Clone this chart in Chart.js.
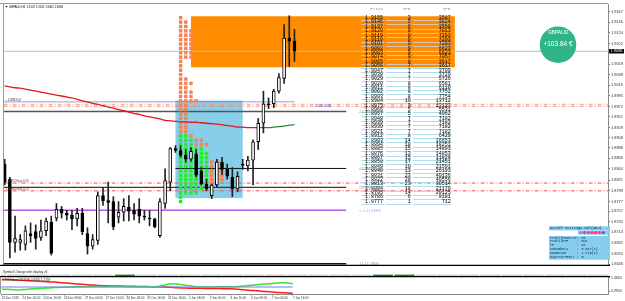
<!DOCTYPE html>
<html>
<head>
<meta charset="utf-8">
<title>GBPAUD,H4</title>
<script src="https://cdn.jsdelivr.net/npm/chart.js@4.4.1/dist/chart.umd.min.js"></script>
<style>
  html, body { margin:0; padding:0; background:#ffffff; width:625px; height:301px; overflow:hidden; }
  canvas { position:absolute; left:0; display:block; }
  #main { top:0; }
  #sub { top:269px; }
</style>
</head>
<body>
<canvas id="main" width="625" height="269"></canvas>
<canvas id="sub" width="625" height="32"></canvas>
<script>
// ---------------- DATA ----------------
const symbolName = 'GBPAUD,H4';
const candleOpen = [1.8854,1.8823,1.8693,1.8693,1.8689,1.8711,1.8715,1.8703,1.8717,1.8735,
1.8743,1.8761,1.8753,1.8749,1.8741,1.8753,1.8711,1.8685,1.8697,1.8789,
1.8779,1.8777,1.8745,1.8755,1.8765,1.8759,1.8761,1.8747,1.8743,1.8741,
1.8707,1.8773,1.8817,1.8886,1.8882,1.8872,1.8864,1.8874,1.8839,1.8813,
1.8789,1.8811,1.8858,1.8843,1.8827,1.8803,1.8854,1.8850,1.8862,1.8900,
1.8938,1.8978,1.8978,1.9004,1.9030,1.9113,1.9107];
const candleHigh = [1.8864,1.8827,1.8747,1.8709,1.8727,1.8733,1.8729,1.8739,1.8743,1.8747,
1.8773,1.8767,1.8759,1.8759,1.8763,1.8763,1.8723,1.8709,1.8797,1.8805,
1.8817,1.8787,1.8777,1.8783,1.8789,1.8773,1.8783,1.8759,1.8759,1.8743,
1.8783,1.8844,1.8888,1.8892,1.8892,1.8884,1.8888,1.8884,1.8847,1.8823,
1.8813,1.8864,1.8868,1.8854,1.8847,1.8838,1.8864,1.8870,1.8904,1.8948,
1.9004,1.8990,1.9008,1.9040,1.9141,1.9159,1.9131];
const candleLow = [1.8811,1.8661,1.8673,1.8677,1.8677,1.8693,1.8679,1.8697,1.8707,1.8667,
1.8737,1.8743,1.8739,1.8719,1.8727,1.8709,1.8669,1.8679,1.8689,1.8769,
1.8733,1.8719,1.8733,1.8737,1.8737,1.8739,1.8733,1.8739,1.8727,1.8723,
1.8703,1.8763,1.8799,1.8878,1.8868,1.8858,1.8860,1.8827,1.8811,1.8799,
1.8783,1.8807,1.8833,1.8823,1.8787,1.8797,1.8843,1.8840,1.8811,1.8884,
1.8918,1.8968,1.8970,1.9000,1.9020,1.9055,1.9065];
const candleClose = [1.8817,1.8693,1.8701,1.8699,1.8717,1.8707,1.8701,1.8717,1.8737,1.8671,
1.8761,1.8753,1.8749,1.8741,1.8753,1.8715,1.8685,1.8699,1.8789,1.8779,
1.8775,1.8725,1.8755,1.8767,1.8757,1.8751,1.8747,1.8745,1.8741,1.8725,
1.8777,1.8820,1.8886,1.8882,1.8872,1.8864,1.8880,1.8831,1.8813,1.8803,
1.8811,1.8858,1.8843,1.8829,1.8803,1.8829,1.8852,1.8862,1.8900,1.8938,
1.8978,1.8976,1.9004,1.9032,1.9113,1.9107,1.9086];
const maValues = [1.9015,1.9013,1.9011,1.9010,1.9008,1.9006,1.9004,1.9002,1.9000,1.8998,
1.8996,1.8994,1.8992,1.8990,1.8987,1.8984,1.8982,1.8979,1.8977,1.8974,
1.8971,1.8969,1.8966,1.8964,1.8961,1.8958,1.8956,1.8953,1.8951,1.8949,
1.8947,1.8944,1.8943,1.8942,1.8941,1.8941,1.8940,1.8940,1.8939,1.8938,
1.8937,1.8936,1.8935,1.8933,1.8932,1.8930,1.8930,1.8929,1.8929,1.8929,
1.8929,1.8929,1.8930,1.8931,1.8932,1.8934,1.8935];
const maTurnIndex = 49;

const timeLabels = ['23 Dec 2019','24 Dec 00:00','24 Dec 16:00','26 Dec 08:00','27 Dec 00:00',
'27 Dec 16:00','30 Dec 08:00','31 Dec 00:00','31 Dec 16:00','2 Jan 08:00','3 Jan 00:00',
'3 Jan 16:00','6 Jan 08:00','7 Jan 00:00','7 Jan 16:00'];
const timeLabelIndex = [0,4,8,12,16,20,24,28,32,36,40,44,48,52,56];
const priceTicks = [1.9167,1.9146,1.9124,1.9102,1.9059,1.9038,1.9016,1.8995,1.8972,1.8951,
1.8929,1.8908,1.8888,1.8866,1.8844,1.8821,1.8799,1.8777,1.8757,1.8735,1.8714,1.8692,1.8670,1.8648];
const lastPrice = 1.9086;
const barOHLCText = ['1.9107','1.9131','1.9065','1.9086'];

// profile table
const tablePrices = [1.9155,1.9146,1.9137,1.9128,1.9119,1.9110,1.9101,1.9092,1.9083,1.9074,
1.9065,1.9056,1.9047,1.9038,1.9029,1.9020,1.9011,1.9002,1.8993,1.8984,
1.8975,1.8966,1.8957,1.8948,1.8939,1.8930,1.8921,1.8912,1.8903,1.8894,
1.8885,1.8876,1.8867,1.8858,1.8849,1.8840,1.8831,1.8822,1.8813,1.8804,
1.8795,1.8786,1.8777];
const tableTPO = [3,5,6,9,9,9,9,9,9,9,8,7,7,7,7,8,8,8,8,10,9,5,5,7,7,7,7,8,14,18,15,13,15,17,10,13,23,28,23,18,14,6,1];
const tableVPO = [3587,3824,3559,7813,7293,7293,7293,6623,6623,7057,3617,3617,3709,3729,5726,6581,6110,7752,7754,13712,
13123,5531,4062,7182,7182,7182,7182,6429,16653,18251,14893,14853,11828,21451,21591,26193,40136,40556,30514,21179,20125,8181,712];
const tableHeaders = ['Price','TPO','VPO'];

// TPO squares: [candle column, first row, last row]
const tpoOrangeRuns = [[34,0,26],[35,1,9],[35,14,26],[36,3,9],[36,15,15],[36,17,19],[36,27,27],
[37,19,19],[37,28,29],[38,28,29],[39,29,29],[40,33,38],[41,33,37],[42,34,37]];
const tpoGreenRuns = [[34,27,42],[35,27,40],[36,28,40],[37,30,40],[38,30,39],[39,31,39]];

// zones: [from index, to index, top price, bottom price]
const valueZone = [36.0, 87.0, 1.9158, 1.9053];
const rangeZone = [33.0, 46.0, 1.8984, 1.8784];

// horizontal levels
const levelPrices = [1.9086, 1.8982, 1.8977, 1.8973, 1.8962, 1.8845, 1.8815, 1.8806, 1.8799, 1.8759, 1.8649];
const levelFrom   = [-0.2, -0.2, -0.2, -0.2, -0.2, 33, -0.2, -0.2, -0.2, -0.2, -0.2];
const levelTo     = [117, 56, 117, 117, 66, 66, 117, 66, 117, 66, 66];

// indicator sub-window
const difRed = [1.3372,1.3315,1.3257,1.3170,1.3112,1.3026,1.2939,1.2852,1.2766,1.2679,
1.2592,1.2477,1.2361,1.2245,1.2130,1.2014,1.1899,1.1783,1.1667,1.1581,
1.1523,1.1494,1.1465,1.1436,1.1407,1.1378,1.1349,1.1321,1.1292,1.1263,
1.1263,1.1205,1.1118,1.1032,1.0945,1.0887,1.0829,1.0800,1.0800,1.0771,
1.0742,1.0714,1.0714,1.0685,1.0656,1.0569,1.0454,1.0338,1.0193,1.0078,
0.9962,0.9847,0.9731,0.9615,0.9529,0.9442,0.9355];
const difGreen = [1.0598,1.0511,1.0425,1.0338,1.0425,1.0540,1.0656,1.0742,1.0829,1.0916,
1.1003,1.1060,1.1118,1.1176,1.1205,1.1234,1.1263,1.1292,1.1321,1.1321,
1.1321,1.1292,1.1292,1.1292,1.1263,1.1263,1.1263,1.1234,1.1234,1.1234,
1.1321,1.1610,1.1956,1.2130,1.1985,1.1754,1.1523,1.1349,1.1234,1.1205,
1.1205,1.1205,1.1234,1.1234,1.1234,1.1263,1.1378,1.1523,1.1696,1.1841,
1.1956,1.2072,1.2216,1.2332,1.2390,1.2303,1.2159];
const difBase = 1.1176;
const difTicks = [1.3864, 0.9934];
const greenButtons = [5, 17, 18];

// ---------------- STYLES ----------------
const X_MIN = -0.135, X_MAX = 116.6;
const SANS = '"Liberation Sans", Arial, sans-serif';
const MONO = '"Liberation Mono", "DejaVu Sans Mono", monospace';
const levelStyle = [
  {c:'#BDBDBD', w:1, d:[]},
  {c:'#9C9CE8', w:1, d:[]},
  {c:'#F4A070', w:1, d:[4,2,1,2]},
  {c:'#F08080', w:1, d:[4,2,1,2]},
  {c:'#555555', w:1.4, d:[]},
  {c:'#111111', w:1, d:[]},
  {c:'#FF4A4A', w:1, d:[4,2,1,2]},
  {c:'#3A3A3A', w:1.2, d:[]},
  {c:'#FF4A4A', w:1, d:[4,2,1,2]},
  {c:'#BB55DD', w:1.5, d:[]},
  {c:'#111111', w:1.5, d:[]}
];

// ---------------- DATASETS (main) ----------------
const idx = candleOpen.map((_, i) => i);
const bodyData = idx.map(i => ({x:i, y:[Math.min(candleOpen[i], candleClose[i]), Math.max(candleOpen[i], candleClose[i])]}));
const bodyColors = idx.map(i => candleClose[i] >= candleOpen[i] ? '#FFFFFF' : '#000000');
const wickData = idx.map(i => ({x:i, y:[candleLow[i], candleHigh[i]]}));
const maData = idx.map(i => ({x:i, y:maValues[i]}));
const sqOrange = [], sqGreen = [];
tpoOrangeRuns.forEach(([c, r0, r1]) => { for (let r = r0; r <= r1; r++) sqOrange.push({x:c, y:tablePrices[r]}); });
tpoGreenRuns.forEach(([c, r0, r1]) => { for (let r = r0; r <= r1; r++) sqGreen.push({x:c, y:tablePrices[r]}); });

const datasets = [
  {type:'bar', data:bodyData, backgroundColor:bodyColors, borderColor:'#000', borderWidth:1, borderSkipped:false,
   barThickness:3, maxBarThickness:3, grouped:false, order:0},
  {type:'bar', data:wickData, backgroundColor:'#222', borderWidth:0, barThickness:1, maxBarThickness:1, grouped:false, order:1},
  {type:'line', data:maData, borderWidth:1.3, pointRadius:0, tension:0.3,
   segment:{borderColor: ctx => ctx.p0DataIndex >= maTurnIndex ? '#2A8C2A' : '#E8141A'}, borderColor:'#E8141A', order:2},
  {type:'line', data:sqOrange, showLine:false, pointStyle:'rect', pointRadius:2.45, pointBackgroundColor:'#F7824F', pointBorderWidth:0, order:3},
  {type:'line', data:sqGreen, showLine:false, pointStyle:'rect', pointRadius:2.45, pointBackgroundColor:'#22EE22', pointBorderWidth:0, order:3}
];
levelPrices.forEach((p, k) => {
  datasets.push({type:'line', data:[{x:levelFrom[k], y:p}, {x:levelTo[k], y:p}], borderColor:levelStyle[k].c,
    borderWidth:levelStyle[k].w, borderDash:levelStyle[k].d, pointRadius:0, order:4 + k});
});

// ---------------- PLUGIN (main overlays) ----------------
const overlay = {
  id:'overlay',
  beforeDatasetsDraw(chart) {
    const {ctx, chartArea:a, scales:{x, y}} = chart;
    ctx.save();
    ctx.beginPath(); ctx.rect(a.left, a.top, a.right - a.left, a.bottom - a.top); ctx.clip();
    const zone = (z, fill) => {
      const x0 = x.getPixelForValue(z[0]), x1 = x.getPixelForValue(z[1]);
      const y0 = y.getPixelForValue(z[2]), y1 = y.getPixelForValue(z[3]);
      ctx.fillStyle = fill; ctx.fillRect(x0, y0, x1 - x0, y1 - y0);
      return [x0, y0, x1, y1];
    };
    zone(valueZone, '#FF8C00');
    const r = zone(rangeZone, '#87CEEB');
    ctx.strokeStyle = '#3C7AA8'; ctx.lineWidth = 1;
    ctx.beginPath(); ctx.moveTo(r[0], r[1] + 0.5); ctx.lineTo(r[2], r[1] + 0.5); ctx.stroke();
    ctx.restore();
  },
  afterDatasetsDraw(chart) {
    const {ctx, chartArea:a, scales:{x, y}} = chart;
    ctx.save();
    // table row lines
    const cols = [[68.9, 73.3], [73.7, 78.5], [78.9, 86.2]];
    const zoneBottom = y.getPixelForValue(valueZone[3]);
    ctx.lineWidth = 1;
    tablePrices.forEach(p => {
      const py = Math.round(y.getPixelForValue(p) + 2.2) + 0.5;
      ctx.strokeStyle = py < zoneBottom ? '#D9C6AE' : '#AFDCEB';
      cols.forEach(([c0, c1]) => {
        ctx.beginPath(); ctx.moveTo(x.getPixelForValue(c0), py); ctx.lineTo(x.getPixelForValue(c1), py); ctx.stroke();
      });
    });
    // table text
    ctx.textAlign = 'right'; ctx.textBaseline = 'middle';
    ctx.font = '5px ' + MONO; ctx.fillStyle = '#000';
    const rx = [73.1, 78.5, 86.2].map(v => x.getPixelForValue(v));
    tablePrices.forEach((p, r) => {
      const py = y.getPixelForValue(p);
      ctx.fillText(p.toFixed(4), rx[0], py);
      ctx.fillText(String(tableTPO[r]), rx[1], py);
      ctx.fillText(String(tableVPO[r]), rx[2], py);
    });
    ctx.font = '4.2px ' + MONO; ctx.fillStyle = '#8A8A8A';
    const hy = y.getPixelForValue(tablePrices[0]) - 9;
    tableHeaders.forEach((h, k) => ctx.fillText(h, rx[k] - (k === 0 ? 0 : 0.5), hy));

    // notes on levels
    ctx.textAlign = 'left'; ctx.textBaseline = 'alphabetic';
    const note = (t, xi, p, col, size, dy) => {
      ctx.font = size + 'px ' + SANS; ctx.fillStyle = col;
      ctx.fillText(t, x.getPixelForValue(xi), y.getPixelForValue(p) + dy);
    };
    note('\u25AA 1.89820.4', 0.2, levelPrices[1], '#333', 3, -1);
    note('1.88153 buy 0.25', 0.2, levelPrices[6], '#444', 3, -0.8);
    note('1.87988 buy 0.25', 0.2, levelPrices[8], '#444', 3, -0.8);
    note('25.0% 5000', 60, levelPrices[3], '#3A3AF0', 3, 1.2);
    note('2.1:1.89617 line', 68.5, levelPrices[4], '#888', 3, 1.5);
    note('0.5:1.88450 line', 68.5, levelPrices[5], '#888', 3, 1.5);
    note('2.5:1.88062 line', 68.5, levelPrices[7], '#888', 3, 1.5);
    note('<-- 1.1.1 1.8759', 68.5, levelPrices[9], '#CC66EE', 3, 2.2);
    note('1.1.1.1 1.8649', 68.5, levelPrices[10], '#888', 3, 1.5);

    // symbol/profit badge
    const cx = a.right - 50, cy = a.top + 40.7;
    ctx.fillStyle = '#2FB587';
    ctx.beginPath(); ctx.arc(cx, cy, 18.3, 0, Math.PI * 2); ctx.fill();
    ctx.fillStyle = '#FFFFFF'; ctx.textAlign = 'center'; ctx.textBaseline = 'middle';
    ctx.font = '5px ' + SANS; ctx.fillText('GBPAUD', cx, cy - 12.2);
    ctx.font = '6.5px ' + SANS; ctx.fillText('+103.84 \u20AC', cx, cy - 0.6);
    ctx.restore();
  },
  afterDraw(chart) {
    const {ctx, chartArea:a, scales:{y}} = chart;
    ctx.save();
    // frame
    ctx.strokeStyle = '#9A9A9A'; ctx.lineWidth = 1;
    ctx.beginPath(); ctx.moveTo(0, a.top - 0.5); ctx.lineTo(a.right, a.top - 0.5); ctx.stroke();
    ctx.beginPath(); ctx.moveTo(a.left - 0.5, a.top); ctx.lineTo(a.left - 0.5, a.bottom); ctx.stroke();
    ctx.strokeStyle = '#000'; ctx.lineWidth = 1.2;
    ctx.beginPath(); ctx.moveTo(0, a.bottom + 0.4); ctx.lineTo(a.right + 2, a.bottom + 0.4); ctx.stroke();

    // header
    ctx.fillStyle = '#000';
    ctx.beginPath(); ctx.moveTo(a.left + 1.2, a.top + 2); ctx.lineTo(a.left + 3.6, a.top + 2); ctx.lineTo(a.left + 2.4, a.top + 3.6); ctx.fill();
    ctx.font = '2.8px ' + SANS; ctx.textAlign = 'left'; ctx.textBaseline = 'middle';
    ctx.fillText(symbolName + '  ' + barOHLCText.join(' '), a.left + 5, a.top + 3);

    // last price marker on axis
    const py = y.getPixelForValue(lastPrice);
    ctx.fillStyle = '#000'; ctx.fillRect(a.right + 1, py - 2.2, 15, 4.4);
    ctx.fillStyle = '#FFF'; ctx.font = '3.9px ' + SANS; ctx.fillText(lastPrice.toFixed(4), a.right + 2.6, py + 0.1);

    // settings panel
    const px0 = a.right - 59, px1 = a.right + 2, pt = a.bottom - 38.7;
    ctx.fillStyle = '#87CEEB';
    ctx.fillRect(px0, pt, px1 - px0, 4.1);
    ctx.fillRect(a.right - 30, pt + 4.3, 32, 4.0);
    ctx.fillRect(px0, pt + 9.7, px1 - px0, 23.7);
    ctx.fillStyle = '#0A1E5A'; ctx.font = '3.6px ' + MONO; ctx.textBaseline = 'middle';
    ctx.fillText('On/Off Settings Del(OBJ)', px0 + 1, pt + 2.1);
    const dotCols = ['#7C8CFF', '#FF2E9A', '#FF2E9A', '#FF2E9A', '#FF2E9A', '#FF2E9A', '#3A5CFF'];
    dotCols.forEach((c, k) => {
      ctx.fillStyle = c; ctx.beginPath(); ctx.arc(a.right - 27.3 + k * 3.75, pt + 6.3, 1.55, 0, Math.PI * 2); ctx.fill();
    });
    const rows = [['ProfileSource', 'H4'], ['ProfileTF', 'MN1'], ['TF', 'D1'], ['InNumbers', '6 Bar(s)'], ['ZoomSize', '1 Pip(s)'], ['DayStartHour', '0']];
    ctx.fillStyle = '#0A1E5A'; ctx.font = '3.4px ' + MONO;
    rows.forEach((r, k) => {
      const ty = pt + 11.4 + k * 3.85;
      ctx.fillText(r[0], px0 + 1, ty);
      ctx.fillText(':', px0 + 27.5, ty);
      ctx.fillText(r[1], px0 + 32.5, ty);
    });
    ctx.restore();
  }
};

new Chart(document.getElementById('main'), {
  type:'bar',
  data:{datasets},
  options:{
    responsive:false, animation:false, events:[],
    layout:{padding:{left:1, top:1, right:0, bottom:1}},
    plugins:{legend:{display:false}, tooltip:{enabled:false}},
    scales:{
      x:{type:'linear', min:X_MIN, max:X_MAX, display:false, offset:false},
      y:{type:'linear', position:'right', min:1.86465, max:1.91832,
         afterFit(s){ s.width = 17; },
         afterBuildTicks(s){ s.ticks = priceTicks.map(v => ({value:v})); },
         ticks:{autoSkip:false, padding:1, color:'#333', font:{size:3.9, family:SANS}, callback:v => Number(v).toFixed(4)},
         grid:{drawOnChartArea:false, tickLength:2, color:'#777'},
         border:{color:'#8A8A8A'}}
    }
  },
  plugins:[overlay]
});

// ---------------- SUB WINDOW ----------------
const subOverlay = {
  id:'subOverlay',
  afterDraw(chart) {
    const {ctx, chartArea:a} = chart;
    ctx.save();
    ctx.font = '3.2px ' + SANS; ctx.fillStyle = '#222'; ctx.textAlign = 'left'; ctx.textBaseline = 'middle';
    ctx.fillText('Symbol Change with display v3', a.left + 2, 2.7);
    const bw = 21.5; let k = -1;
    for (let bx = a.left + 5.7 - bw; bx < a.right; bx += bw, k++) {
      const x0 = Math.max(bx + 0.6, a.left), x1 = Math.min(bx + bw - 0.6, a.right);
      ctx.fillStyle = greenButtons.includes(k) ? '#1F7F1F' : '#CACACA';
      ctx.fillRect(x0, 5.6, x1 - x0, 1.9);
    }
    ctx.strokeStyle = '#000'; ctx.lineWidth = 1.2;
    ctx.beginPath(); ctx.moveTo(0, a.top - 0.3); ctx.lineTo(a.right + 2, a.top - 0.3); ctx.stroke();
    ctx.strokeStyle = '#9A9A9A'; ctx.lineWidth = 1;
    ctx.beginPath(); ctx.moveTo(a.left - 0.5, a.top); ctx.lineTo(a.left - 0.5, a.bottom); ctx.stroke();
    ctx.fillStyle = '#E8141A'; ctx.fillRect(a.left + 1, a.top + 2.5, 2.5, 1);
    ctx.fillStyle = '#222'; ctx.font = '3px ' + SANS;
    ctx.fillText('Dif Index (12,26,9) ' + difRed[difRed.length - 1].toFixed(4) + ' ' + difGreen[difGreen.length - 1].toFixed(4), a.left + 4.5, a.top + 3);
    ctx.restore();
  }
};

new Chart(document.getElementById('sub'), {
  type:'line',
  data:{datasets:[
    {data:[{x:X_MIN, y:difBase}, {x:56, y:difBase}], borderColor:'#7B7BEF', borderWidth:1.2, pointRadius:0},
    {data:idx.map(i => ({x:i, y:difGreen[i]})), borderColor:'#33E633', borderWidth:1.5, pointRadius:0, tension:0.3},
    {data:idx.map(i => ({x:i, y:difRed[i]})), borderColor:'#FF1A1A', borderWidth:1.5, pointRadius:0, tension:0.3}
  ]},
  options:{
    responsive:false, animation:false, events:[],
    layout:{padding:{left:1, top:8, right:0, bottom:0}},
    plugins:{legend:{display:false}, tooltip:{enabled:false}},
    scales:{
      x:{type:'linear', min:X_MIN, max:X_MAX, offset:false,
         afterFit(s){ s.height = 7; },
         afterBuildTicks(s){ s.ticks = timeLabelIndex.map(v => ({value:v})); },
         ticks:{autoSkip:false, align:'start', minRotation:0, maxRotation:0, padding:0.5, color:'#333',
                font:{size:3, family:SANS}, callback:(v, i) => timeLabels[i]},
         grid:{drawOnChartArea:false, tickLength:1.5, color:'#777'},
         border:{color:'#8A8A8A'}},
      y:{type:'linear', position:'right', min:0.9153, max:1.4066,
         afterFit(s){ s.width = 17; },
         afterBuildTicks(s){ s.ticks = difTicks.map(v => ({value:v})); },
         ticks:{autoSkip:false, padding:1, color:'#333', font:{size:3.5, family:SANS}, callback:v => Number(v).toFixed(4)},
         grid:{drawOnChartArea:false, tickLength:2, color:'#777'},
         border:{color:'#8A8A8A'}}
    }
  },
  plugins:[subOverlay]
});
</script>
</body>
</html>
